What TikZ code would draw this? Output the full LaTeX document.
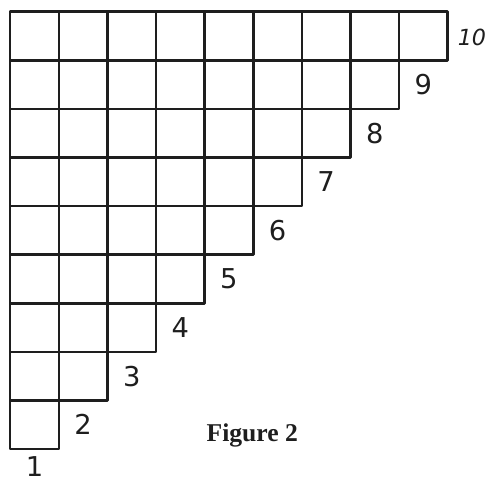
\documentclass[tikz,border=0pt]{standalone}
\usepackage{fontspec}
\setmainfont{Liberation Serif}
\newfontfamily\handfont{DejaVu Sans}
\usepackage{tikz}
\usetikzlibrary{positioning}
\definecolor{inkgray}{RGB}{30,30,30}
\tikzset{
  cell-line/.style={draw=inkgray, line width=1.5pt, line join=round},
  count-label/.style={font=\handfont\fontsize{16}{16}\selectfont, color=inkgray, inner sep=1pt},
  caption-text/.style={font=\bfseries\fontsize{15}{16}\selectfont, color=inkgray}
}
\begin{document}
\begin{tikzpicture}
\useasboundingbox (-0.21,-0.66) rectangle (9.83,9.24);
% staircase of unit squares, row y holds y+1 squares
\foreach \y in {0,...,8}
  \foreach \x in {0,...,\y}
    \draw[cell-line] (\x,\y) rectangle +(1,1);
% counts at the corners of the staircase
\node[count-label] (n1) at (0.5,-0.35) {1};
\foreach \k in {2,...,9}
  \node[count-label] (n\k) at ({\k-0.5},{\k-1.5}) {\k};
\node[count-label, font=\handfont\itshape\fontsize{13}{13}\selectfont] (n10) at (9.5,8.47) {10};
\node[caption-text] (caption) at (4.98,0.29) {Figure 2};
\end{tikzpicture}
\end{document}
